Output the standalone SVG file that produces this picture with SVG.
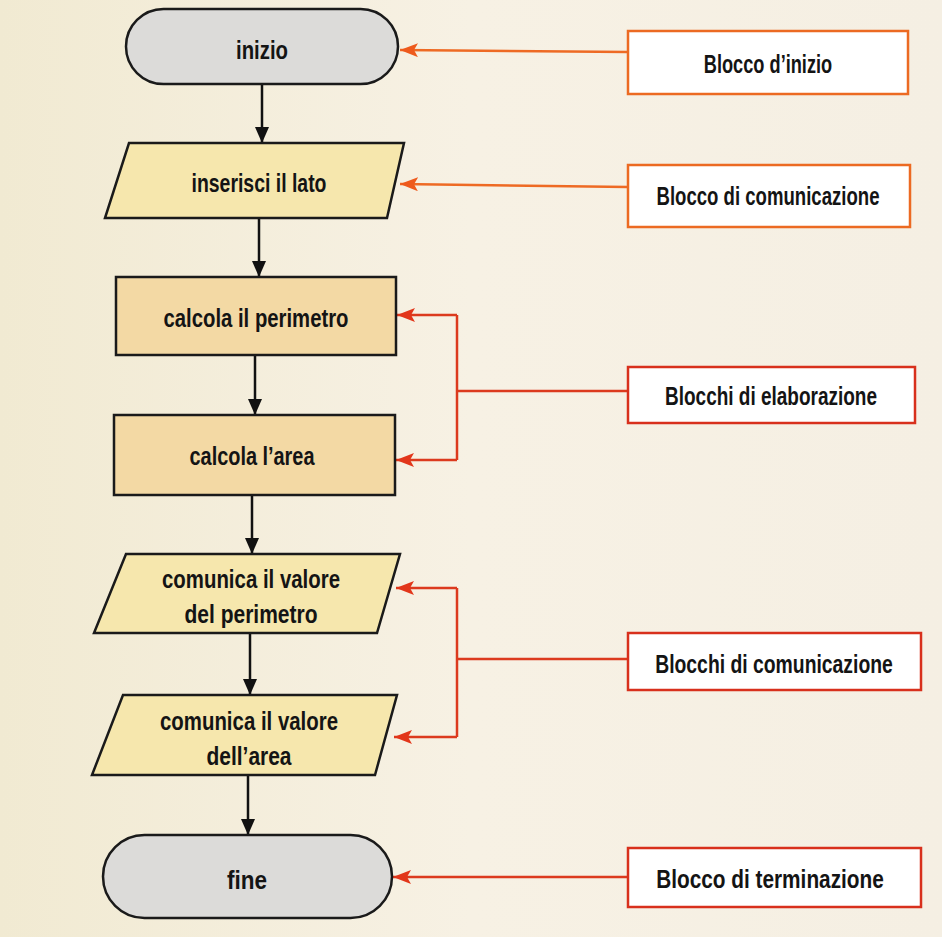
<svg xmlns="http://www.w3.org/2000/svg" width="942" height="937" viewBox="0 0 942 937">
  <defs>
    <linearGradient id="bg" x1="0" y1="0" x2="1" y2="0">
      <stop offset="0" stop-color="#f1ead2"/>
      <stop offset="0.5" stop-color="#f7f1e4"/>
      <stop offset="1" stop-color="#f5efe3"/>
    </linearGradient>
    <marker id="ab" viewBox="0 0 16 14" refX="16" refY="7" markerWidth="16" markerHeight="14" markerUnits="userSpaceOnUse" orient="auto">
      <path d="M0,0 L16,7 L0,14 Z" fill="#111"/>
    </marker>
    <marker id="ao" viewBox="0 0 18 14" refX="18" refY="7" markerWidth="18" markerHeight="14" markerUnits="userSpaceOnUse" orient="auto">
      <path d="M0,0 L18,7 L0,14 L4,7 Z" fill="#ee5a1c"/>
    </marker>
    <marker id="ar" viewBox="0 0 18 14" refX="18" refY="7" markerWidth="18" markerHeight="14" markerUnits="userSpaceOnUse" orient="auto">
      <path d="M0,0 L18,7 L0,14 L4,7 Z" fill="#e2361a"/>
    </marker>
  </defs>
  <style>
    .t { font-family: "Liberation Sans", Arial, sans-serif; font-weight: bold; font-size: 26px; fill: #141414; text-anchor: middle; }
    .term { fill: #dcdbd9; stroke: #1a1a1a; stroke-width: 2.5; }
    .io { fill: #f6e7ad; stroke: #1a1a1a; stroke-width: 2.5; }
    .proc { fill: #f3d9a4; stroke: #1a1a1a; stroke-width: 2.5; }
    .lblo { fill: #ffffff; stroke: #ec6a22; stroke-width: 2.5; }
    .lblr { fill: #ffffff; stroke: #d8301c; stroke-width: 2.5; }
    .flow { fill: none; stroke: #111; stroke-width: 2.5; marker-end: url(#ab); }
    .co { fill: none; stroke: #ee6a24; stroke-width: 2.5; }
    .cr { fill: none; stroke: #dc3a1e; stroke-width: 2.5; }
  </style>
  <rect x="0" y="0" width="942" height="937" fill="url(#bg)"/>

  <g id="connectors">
    <path class="flow" d="M262,84 L262,143"/>
    <path class="flow" d="M259,218 L259,277"/>
    <path class="flow" d="M255,355 L255,415"/>
    <path class="flow" d="M252,495 L252,554"/>
    <path class="flow" d="M250,633 L250,695"/>
    <path class="flow" d="M248,775 L248,835"/>

    <path class="co" d="M628,52 L400,50" marker-end="url(#ao)"/>
    <path class="co" d="M628,187 L400,184" marker-end="url(#ao)"/>

    <path class="cr" d="M628,391 L457,391"/>
    <path class="cr" d="M457,315 L457,460"/>
    <path class="cr" d="M457,315 L397,315" marker-end="url(#ar)"/>
    <path class="cr" d="M457,460 L396,460" marker-end="url(#ar)"/>

    <path class="cr" d="M628,659 L457,659"/>
    <path class="cr" d="M457,588 L457,737"/>
    <path class="cr" d="M457,588 L396,588" marker-end="url(#ar)"/>
    <path class="cr" d="M457,737 L394,737" marker-end="url(#ar)"/>

    <path class="cr" d="M628,877 L393,877" marker-end="url(#ar)"/>
  </g>

  <g id="inizio">
    <rect class="term" x="126" y="9" width="272" height="75" rx="37.5" ry="37.5"/>
    <text class="t" x="262" y="59" textLength="52" lengthAdjust="spacingAndGlyphs">inizio</text>
  </g>

  <g id="inserisci">
    <polygon class="io" points="129,143 404,143 387,218 105,218"/>
    <text class="t" x="259" y="192" textLength="135" lengthAdjust="spacingAndGlyphs">inserisci il lato</text>
  </g>

  <g id="perimetro">
    <rect class="proc" x="116" y="277" width="280" height="78"/>
    <text class="t" x="256" y="327" textLength="185" lengthAdjust="spacingAndGlyphs">calcola il perimetro</text>
  </g>

  <g id="area">
    <rect class="proc" x="114" y="415" width="281" height="80"/>
    <text class="t" x="252" y="465" textLength="125" lengthAdjust="spacingAndGlyphs">calcola l’area</text>
  </g>

  <g id="com-perimetro">
    <polygon class="io" points="126,554 400,554 377,633 94,633"/>
    <text class="t" x="251" y="588" textLength="178" lengthAdjust="spacingAndGlyphs">comunica il valore</text>
    <text class="t" x="251" y="623" textLength="133" lengthAdjust="spacingAndGlyphs">del perimetro</text>
  </g>

  <g id="com-area">
    <polygon class="io" points="123,695 397,695 375,775 92,775"/>
    <text class="t" x="249" y="730" textLength="178" lengthAdjust="spacingAndGlyphs">comunica il valore</text>
    <text class="t" x="249" y="765" textLength="85" lengthAdjust="spacingAndGlyphs">dell’area</text>
  </g>

  <g id="fine">
    <rect class="term" x="103" y="835" width="289" height="83" rx="41.5" ry="41.5"/>
    <text class="t" x="247" y="889" textLength="40" lengthAdjust="spacingAndGlyphs">fine</text>
  </g>

  <g id="lbl-inizio">
    <rect class="lblo" x="628" y="31" width="280" height="63"/>
    <text class="t" transform="translate(768,73) scale(0.70,1)" x="0" y="0">Blocco d’inizio</text>
  </g>

  <g id="lbl-comunicazione">
    <rect class="lblo" x="628" y="165" width="282" height="62"/>
    <text class="t" transform="translate(768,205) scale(0.715,1)" x="0" y="0">Blocco di comunicazione</text>
  </g>

  <g id="lbl-elaborazione">
    <rect class="lblr" x="628" y="367" width="287" height="56"/>
    <text class="t" transform="translate(771,405) scale(0.73,1)" x="0" y="0">Blocchi di elaborazione</text>
  </g>

  <g id="lbl-comunicazioni">
    <rect class="lblr" x="628" y="633" width="293" height="57"/>
    <text class="t" transform="translate(774,673) scale(0.745,1)" x="0" y="0">Blocchi di comunicazione</text>
  </g>

  <g id="lbl-terminazione">
    <rect class="lblr" x="628" y="848" width="293" height="59"/>
    <text class="t" transform="translate(770,888) scale(0.8,1)" x="0" y="0">Blocco di terminazione</text>
  </g>
</svg>
